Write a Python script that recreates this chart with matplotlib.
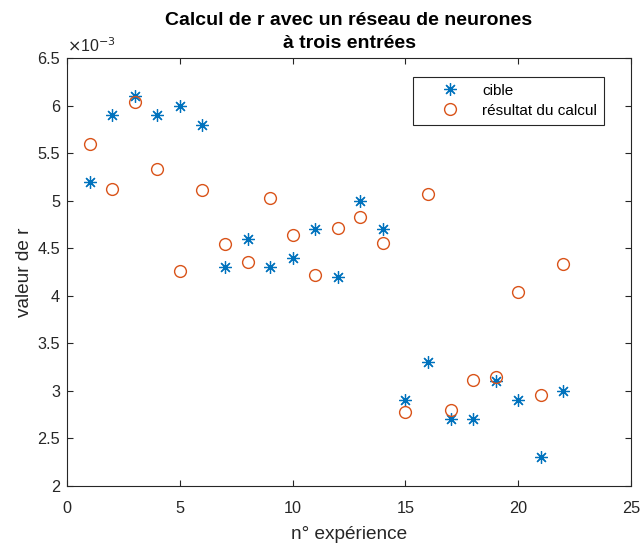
import numpy as np
import matplotlib
matplotlib.use("Agg")
import matplotlib.pyplot as plt
from matplotlib.ticker import FuncFormatter

plt.rcParams['font.family'] = ['Liberation Sans', 'DejaVu Sans']

# Data
experience = np.arange(1, 23)
cible = np.array([5.2, 5.9, 6.1, 5.9, 6.0, 5.8, 4.3, 4.6, 4.3, 4.4, 4.7,
                  4.2, 5.0, 4.7, 2.9, 3.3, 2.7, 2.7, 3.1, 2.9, 2.3, 3.0]) * 1e-3
calcul = np.array([5.60, 5.12, 6.04, 5.33, 4.26, 5.11, 4.54, 4.36, 5.03, 4.64, 4.22,
                   4.71, 4.83, 4.56, 2.78, 5.07, 2.80, 3.11, 3.15, 4.04, 2.96, 4.33]) * 1e-3

blue = '#0072BD'
orange = '#D95319'
axcol = '#262626'

fig = plt.figure(figsize=(6.44, 5.47), dpi=100)
ax = fig.add_axes([0.104, 0.1115, 0.876, 0.7825])

ax.plot(experience, cible, linestyle='none', marker=(8, 2, 0), markersize=9,
        markeredgewidth=0.9, color=blue, label='cible')
ax.plot(experience, calcul, linestyle='none', marker='o', markersize=8.5,
        markerfacecolor='none', markeredgewidth=1.0, color=orange,
        label='résultat du calcul')

ax.set_xlim(0, 25)
ax.set_ylim(2e-3, 6.5e-3)
ax.set_xticks(np.arange(0, 26, 5))
ax.set_yticks(np.arange(2e-3, 6.51e-3, 0.5e-3))
ax.yaxis.set_major_formatter(FuncFormatter(lambda v, p: f"{v * 1e3:g}"))
ax.tick_params(direction='in', top=True, right=True, colors=axcol,
               labelsize=11.7, length=4, width=0.8)
ax.tick_params(axis='x', pad=11)
ax.tick_params(axis='y', pad=5)
for s in ax.spines.values():
    s.set_color(axcol)
    s.set_linewidth(0.8)

ax.text(0.0, 1.006, r'$\times$10$^{-3}$', transform=ax.transAxes,
        ha='left', va='bottom', fontsize=11.5, color=axcol)

ax.set_xlabel('n° expérience', fontsize=13.7, color=axcol, labelpad=7)
ax.set_ylabel('valeur de r', fontsize=13.7, color=axcol, labelpad=3)
ax.set_title('Calcul de r avec un réseau de neurones\nà trois entrées',
             fontsize=14, fontweight='bold', color='black', pad=7,
             linespacing=1.5)

leg = ax.legend(loc='upper right', bbox_to_anchor=(0.952, 0.956),
                borderaxespad=0, fontsize=11, fancybox=False, framealpha=1,
                edgecolor=axcol, handlelength=4, handletextpad=0.1,
                borderpad=0.45, labelspacing=0.4)
leg.get_frame().set_linewidth(0.8)

fig.savefig('out.png', dpi=100)
